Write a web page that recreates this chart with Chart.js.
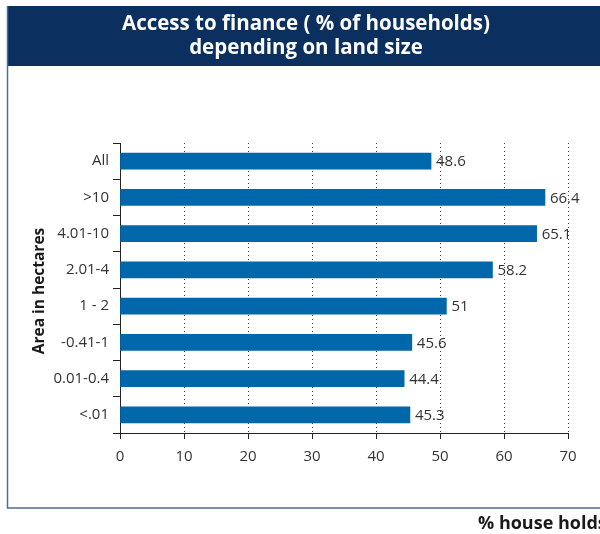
<!DOCTYPE html>
<html>
<head>
<meta charset="utf-8">
<script src="https://cdn.jsdelivr.net/npm/chart.js@4"></script>
<style>
  html, body { margin: 0; padding: 0; background: #fff; }
  #wrap { position: relative; width: 600px; height: 534px; }
</style>
</head>
<body>
<div id="wrap"><canvas id="landChart" width="600" height="534"></canvas></div>
<script>
const categories = ["All", ">10", "4.01-10", "2.01-4", "1 - 2", "-0.41-1", "0.01-0.4", "<.01"];
const households = [48.6, 66.4, 65.1, 58.2, 51, 45.6, 44.4, 45.3];
const xTicks = [0, 10, 20, 30, 40, 50, 60, 70];

const FONT = "'Open Sans', 'Noto Sans', sans-serif";

// banner, frame, axis title, value labels
const decorPlugin = {
    id: "decor",
    beforeDraw(chart) {
        const ctx = chart.ctx;
        ctx.save();
        ctx.fillStyle = "#fff";
        ctx.fillRect(0, 0, chart.width, chart.height);
        // title banner
        ctx.fillStyle = "#0b2f5e";
        ctx.fillRect(7, 6, 593, 60);
        ctx.fillStyle = "#fff";
        ctx.font = "bold 20.5px " + FONT;
        ctx.textAlign = "center";
        ctx.textBaseline = "middle";
        ctx.fillText("Access to finance ( % of households)", 306, 24);
        ctx.fillText("depending on land size", 306, 48);
        // frame
        ctx.strokeStyle = "#4d6b98";
        ctx.lineWidth = 1.5;
        ctx.beginPath();
        ctx.moveTo(7.5, 6);
        ctx.lineTo(7.5, 508);
        ctx.lineTo(600, 508);
        ctx.stroke();
        // y axis title
        ctx.fillStyle = "#1a1a1a";
        ctx.font = "bold 15.5px " + FONT;
        ctx.translate(40, 291);
        ctx.rotate(-Math.PI / 2);
        ctx.fillText("Area in hectares", 0, 0);
        ctx.restore();

        ctx.save();
        ctx.fillStyle = "#1a1a1a";
        ctx.font = "bold 18px " + FONT;
        ctx.textAlign = "left";
        ctx.textBaseline = "middle";
        ctx.fillText("% house holds", 478, 524);
        ctx.restore();
    },
    afterDatasetsDraw(chart) {
        const ctx = chart.ctx;
        const meta = chart.getDatasetMeta(0);
        ctx.save();
        ctx.fillStyle = "#333";
        ctx.font = "15px " + FONT;
        ctx.textAlign = "left";
        ctx.textBaseline = "middle";
        meta.data.forEach((bar, i) => {
            ctx.fillText(String(households[i]), bar.x + 5, bar.y + 1);
        });
        ctx.restore();
    }
};

new Chart(document.getElementById("landChart"), {
    type: "bar",
    data: {
        labels: categories,
        datasets: [{
            data: households,
            backgroundColor: "#0067ab",
            borderWidth: 0,
            barThickness: 16
        }]
    },
    options: {
        indexAxis: "y",
        responsive: false,
        animation: false,
        layout: { padding: { left: 0, right: 32, top: 143, bottom: 61 } },
        plugins: {
            legend: { display: false },
            tooltip: { enabled: false }
        },
        scales: {
            x: {
                min: 0,
                max: 70,
                afterBuildTicks(scale) {
                    scale.ticks = xTicks.map(v => ({ value: v }));
                },
                afterFit(scale) { scale.height = 40; },
                grid: {
                    color: ctx => ctx.tick && ctx.tick.value === 0 ? "rgba(0,0,0,0)" : "#444",
                    tickColor: "#222",
                    tickLength: 6,
                    lineWidth: 1
                },
                border: { display: true, color: "#222", width: 1, dash: [1, 3] },
                ticks: {
                    color: "#333",
                    font: { family: FONT, size: 15 },
                    padding: 9
                }
            },
            y: {
                afterFit(scale) { scale.width = 120; },
                grid: {
                    drawOnChartArea: false,
                    tickColor: "#222",
                    tickLength: 7,
                    offset: true
                },
                border: { display: true, color: "#222", width: 1 },
                ticks: {
                    color: "#333",
                    font: { family: FONT, size: 15 },
                    padding: 4
                }
            }
        }
    },
    plugins: [decorPlugin]
});
</script>
</body>
</html>
